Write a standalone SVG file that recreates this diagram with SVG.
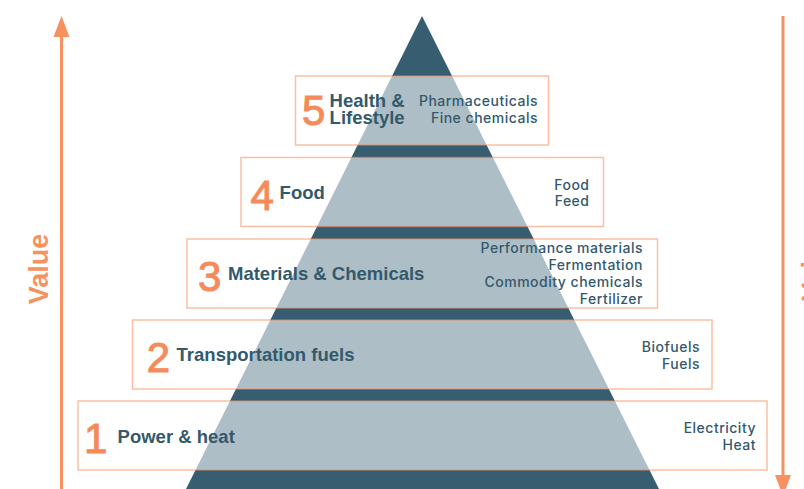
<svg xmlns="http://www.w3.org/2000/svg" width="804" height="489" viewBox="0 0 804 489">
  <style>
    .pyramid { fill: #365d70; }
    .tier-box { fill: #ffffff; fill-opacity: 0.6; stroke: #f58b5a; stroke-opacity: 0.55; stroke-width: 1.5; }
    .num { font-family: "Liberation Sans", Arial, sans-serif; font-size: 42px; fill: #f58b5a; stroke: #f58b5a; stroke-width: 1; }
    .label { font-family: "Liberation Sans", Arial, sans-serif; font-weight: bold; font-size: 18.5px; fill: #33596c; }
    .item { font-family: Inter, "Liberation Sans", Arial, sans-serif; font-weight: 500; font-size: 14px; fill: #33596c; text-anchor: end; letter-spacing: 0.5px; }
    .axis { stroke: #f79160; stroke-width: 3; fill: none; }
    .axis-head { fill: #f79160; }
    .axis-label { font-family: "Liberation Sans", Arial, sans-serif; font-weight: bold; font-size: 27px; fill: #f79160; }
  </style>

  <!-- background pyramid -->
  <polygon class="pyramid" points="422,16 659,489 186,489"/>

  <!-- tier 5 -->
  <g id="tier-5">
    <rect class="tier-box" x="295.5" y="76" width="253" height="69"/>
    <text class="num" x="302" y="125">5</text>
    <text class="label" x="329.6" y="107">Health &amp;</text>
    <text class="label" x="329.6" y="124">Lifestyle</text>
    <text class="item" x="538" y="106">Pharmaceuticals</text>
    <text class="item" x="538" y="123">Fine chemicals</text>
  </g>

  <!-- tier 4 -->
  <g id="tier-4">
    <rect class="tier-box" x="241" y="157.5" width="362.5" height="69"/>
    <text class="num" x="250.6" y="210">4</text>
    <text class="label" x="279.6" y="199">Food</text>
    <text class="item" x="589.5" y="189.5">Food</text>
    <text class="item" x="589.5" y="206">Feed</text>
  </g>

  <!-- tier 3 -->
  <g id="tier-3">
    <rect class="tier-box" x="187" y="239" width="470.5" height="69"/>
    <text class="num" x="198" y="291">3</text>
    <text class="label" x="228" y="280">Materials &amp; Chemicals</text>
    <text class="item" x="643" y="252.5">Performance materials</text>
    <text class="item" x="643" y="269.5">Fermentation</text>
    <text class="item" x="643" y="286.5">Commodity chemicals</text>
    <text class="item" x="643" y="303.5">Fertilizer</text>
  </g>

  <!-- tier 2 -->
  <g id="tier-2">
    <rect class="tier-box" x="132.5" y="320" width="579.5" height="69"/>
    <text class="num" x="146.7" y="372">2</text>
    <text class="label" x="176.6" y="361">Transportation fuels</text>
    <text class="item" x="700" y="352">Biofuels</text>
    <text class="item" x="700" y="369">Fuels</text>
  </g>

  <!-- tier 1 -->
  <g id="tier-1">
    <rect class="tier-box" x="78" y="401" width="689" height="69"/>
    <text class="num" x="84" y="453">1</text>
    <text class="label" x="117.6" y="443">Power &amp; heat</text>
    <text class="item" x="756" y="433">Electricity</text>
    <text class="item" x="756" y="450">Heat</text>
  </g>

  <!-- side axes -->
  <g id="axes">
    <line class="axis" x1="61.5" y1="489" x2="61.5" y2="34"/>
    <polygon class="axis-head" points="61.5,16 69.5,37 53.5,37"/>
    <text class="axis-label" text-anchor="middle" transform="translate(48,269) rotate(-90)">Value</text>

    <line class="axis" x1="783" y1="16" x2="783" y2="478"/>
    <polygon class="axis-head" points="783,496 775,475 791,475"/>
    <text class="axis-label" transform="translate(821,301) rotate(-90)">Volume</text>
  </g>
</svg>
